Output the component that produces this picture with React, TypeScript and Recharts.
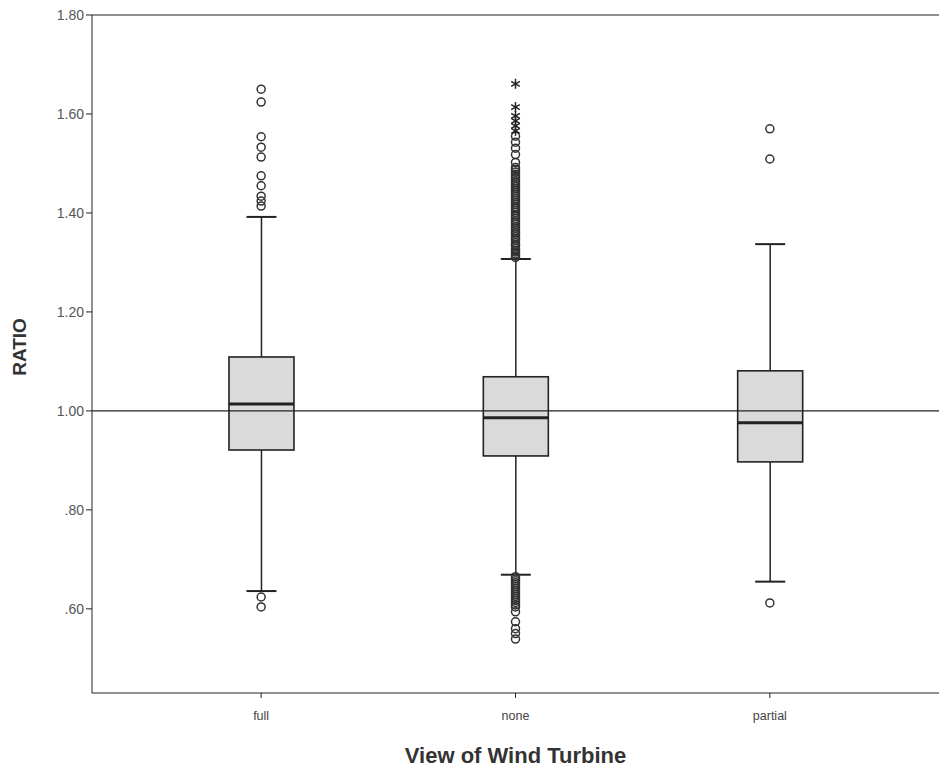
import { ComposedChart, Bar, Scatter, XAxis, YAxis, ReferenceLine } from "recharts";

// box plot of RATIO by view of the wind turbine
const categories = ["full", "none", "partial"];
const positions = [1, 2, 3];
const whiskerLow = [0.636, 0.669, 0.655];
const q1 = [0.921, 0.909, 0.897];
const median = [1.014, 0.986, 0.976];
const q3 = [1.109, 1.069, 1.081];
const whiskerHigh = [1.392, 1.307, 1.337];

const yTicks = [0.6, 0.8, 1.0, 1.2, 1.4, 1.6, 1.8];

// outliers (circles) and extremes (asterisks)
const fullOutliers = [1.65, 1.624, 1.554, 1.533, 1.513, 1.475, 1.455, 1.434, 1.424, 1.414, 0.624, 0.604];
const noneOutliers = [
  1.31, 1.313, 1.317, 1.321, 1.324, 1.328, 1.333, 1.336, 1.34, 1.345, 1.348, 1.352, 1.357, 1.36,
  1.364, 1.369, 1.372, 1.377, 1.381, 1.384, 1.389, 1.393, 1.396, 1.401, 1.405, 1.409, 1.412, 1.417,
  1.421, 1.425, 1.429, 1.433, 1.437, 1.441, 1.445, 1.449, 1.453, 1.457, 1.461, 1.465, 1.47, 1.474,
  1.478, 1.483, 1.488, 1.492, 1.502, 1.518, 1.531, 1.543, 1.555,
  0.665, 0.661, 0.657, 0.653, 0.649, 0.645, 0.641, 0.637, 0.633, 0.629, 0.625, 0.621, 0.617, 0.613,
  0.608, 0.604, 0.594, 0.574, 0.56, 0.55, 0.539,
];
const noneExtremes = [1.661, 1.614, 1.596, 1.586, 1.576, 1.566];
const partialOutliers = [1.57, 1.509, 0.612];

const boxData = categories.map((name, i) => ({
  name,
  pos: positions[i],
  range: [whiskerLow[i], whiskerHigh[i]],
  lo: whiskerLow[i],
  q1: q1[i],
  med: median[i],
  q3: q3[i],
  hi: whiskerHigh[i],
}));

const circleData = [
  ...fullOutliers.map((v) => ({ pos: positions[0], val: v })),
  ...noneOutliers.map((v) => ({ pos: positions[1], val: v })),
  ...partialOutliers.map((v) => ({ pos: positions[2], val: v })),
];
const starData = noneExtremes.map((v) => ({ pos: positions[1], val: v }));

const INK = "#222";

const BoxShape = (props: any) => {
  const { x, y, width, height, payload } = props;
  if (x == null || y == null) return null;
  const top = Math.min(y, y + height);
  const h = Math.abs(height);
  const { lo, q1, med, q3, hi } = payload;
  const py = (v: number) => top + ((hi - v) / (hi - lo)) * h;
  const cx = x + width / 2;
  const cap = 15;
  return (
    <g>
      <line x1={cx} x2={cx} y1={py(hi)} y2={py(q3)} stroke={INK} strokeWidth={1.5} />
      <line x1={cx} x2={cx} y1={py(q1)} y2={py(lo)} stroke={INK} strokeWidth={1.5} />
      <line x1={cx - cap} x2={cx + cap} y1={py(hi)} y2={py(hi)} stroke={INK} strokeWidth={2} />
      <line x1={cx - cap} x2={cx + cap} y1={py(lo)} y2={py(lo)} stroke={INK} strokeWidth={2} />
      <rect x={x} y={py(q3)} width={width} height={py(q1) - py(q3)} fill="#dadada" stroke={INK} strokeWidth={1.6} />
      <line x1={x} x2={x + width} y1={py(med)} y2={py(med)} stroke={INK} strokeWidth={3} />
    </g>
  );
};

const CircleShape = (p: any) => (
  <circle cx={p.cx} cy={p.cy} r={4} fill="none" stroke="#333" strokeWidth={1.5} />
);

const StarShape = (p: any) => {
  const r = 5;
  const spokes = [0, 60, 120];
  return (
    <g stroke="#222" strokeWidth={1.5}>
      {spokes.map((a) => {
        const rad = (a * Math.PI) / 180;
        const dx = r * Math.sin(rad);
        const dy = r * Math.cos(rad);
        return <line key={a} x1={p.cx - dx} y1={p.cy - dy} x2={p.cx + dx} y2={p.cy + dy} />;
      })}
    </g>
  );
};

const fmtY = (v: number) => {
  const s = v.toFixed(2);
  return s.startsWith("0") ? s.slice(1) : s;
};

export default function App() {
  return (
    <div style={{ position: "absolute", left: 0, top: 0, background: "#fff" }}>
      <ComposedChart
        width={939}
        height={772}
        data={boxData}
        margin={{ top: 15, right: 0, bottom: 0, left: 0 }}
        style={{ fontFamily: "'Liberation Sans', Arial, sans-serif" }}
      >
        <XAxis
          dataKey="pos"
          type="number"
          domain={[0.335, 3.665]}
          ticks={positions}
          tickFormatter={(v: number) => categories[positions.indexOf(v)] ?? ""}
          height={79}
          tickSize={5}
          tickMargin={13}
          tick={{ fontSize: 12.5, fill: "#444" }}
          stroke={INK}
          allowDataOverflow
          label={{
            value: "View of Wind Turbine",
            position: "insideBottom",
            offset: 9,
            style: { fontSize: 22, fontWeight: "bold", fill: "#333" },
          }}
        />
        <YAxis
          type="number"
          domain={[0.43, 1.8]}
          ticks={yTicks}
          tickFormatter={fmtY}
          width={92}
          tickSize={6}
          tickMargin={2}
          tick={{ fontSize: 14, fill: "#555" }}
          stroke={INK}
          allowDataOverflow
          label={{
            content: ({ viewBox }: any) => {
              const cy = viewBox.y + viewBox.height / 2 - 7;
              return (
                <text
                  x={19}
                  y={cy}
                  transform={`rotate(-90, 19, ${cy})`}
                  textAnchor="middle"
                  dominantBaseline="central"
                  style={{ fontSize: 19, fontWeight: "bold", fill: "#333" }}
                >
                  RATIO
                </text>
              );
            },
          }}
        />
        <ReferenceLine y={1.8} stroke={INK} strokeWidth={1.2} />
        <Bar dataKey="range" barSize={65} shape={BoxShape} isAnimationActive={false} />
        <ReferenceLine y={1} stroke={INK} strokeWidth={1.4} />
        <Scatter data={circleData} dataKey="val" shape={CircleShape} isAnimationActive={false} />
        <Scatter data={starData} dataKey="val" shape={StarShape} isAnimationActive={false} />
      </ComposedChart>
    </div>
  );
}
